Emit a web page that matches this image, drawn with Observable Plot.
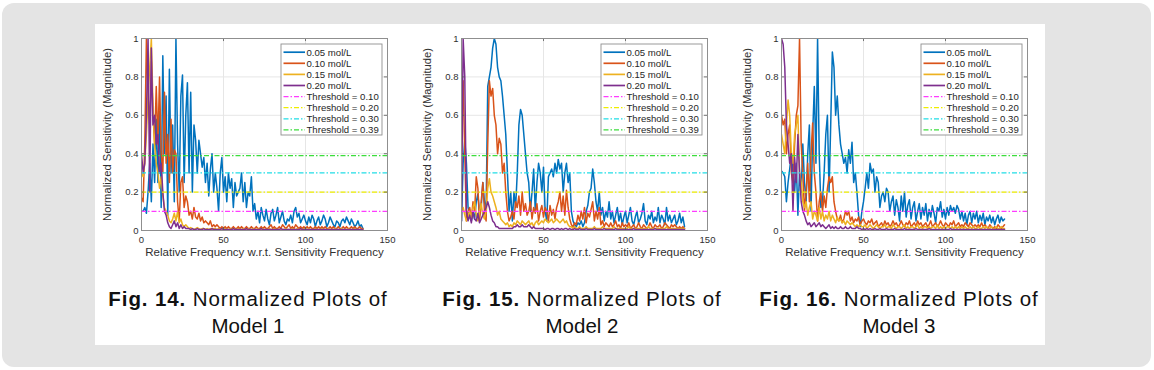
<!DOCTYPE html>
<html>
<head>
<meta charset="utf-8">
<script src="https://cdn.jsdelivr.net/npm/d3@7"></script>
<script src="https://cdn.jsdelivr.net/npm/@observablehq/plot@0.6"></script>
<style>
  html, body { margin: 0; padding: 0; background: #fff; }
  body { width: 1154px; height: 370px; position: relative; overflow: hidden; font-family: Arial, "Liberation Sans", Helvetica, sans-serif; }
  #frame { position: absolute; left: 2px; top: 3px; width: 1149px; height: 364px; background: #e4e4e4; border-radius: 12px; }
  #card { position: absolute; left: 95px; top: 24px; width: 950px; height: 321px; background: #fff; }
  .panel { position: absolute; top: 0; }
  .cap { position: absolute; width: 360px; text-align: center; font-size: 20.5px; line-height: 27px; color: #111; top: 261px; }
  .cap .l1 { letter-spacing: 0.9px; }
  .cap b { font-weight: bold; }
</style>
</head>
<body>
<div id="frame"></div>
<div id="card"></div>
<script>
// ---------- data ----------
const xTicks = [0, 50, 100, 150];
const yTicks = [0, 0.2, 0.4, 0.6, 0.8, 1];
const yTickLabels = ["0", "0.2", "0.4", "0.6", "0.8", "1"];
const gridX = [50, 100];
const gridY = [0.2, 0.4, 0.6, 0.8];
const seriesNames = ["0.05 mol/L", "0.10 mol/L", "0.15 mol/L", "0.20 mol/L"];
const thresholds = [0.10, 0.20, 0.30, 0.39];
const thresholdNames = ["Threshold = 0.10", "Threshold = 0.20", "Threshold = 0.30", "Threshold = 0.39"];
const xLabel = "Relative Frequency w.r.t. Sensitivity Frequency";
const yLabel = "Normalized Sensitivity (Magnitude)";
const figLabels = ["Fig. 14.", "Fig. 15.", "Fig. 16."];
const figTitles = ["Normalized Plots of", "Normalized Plots of", "Normalized Plots of"];
const modelNames = ["Model 1", "Model 2", "Model 3"];

// Model 1 (x = 0,1,2,...)
const m1_005 = [0.10,0.10,0.12,0.09,0.20,0.35,0.15,0.45,0.25,0.58,
 0.25,0.62,0.12,0.91,0.40,0.70,0.08,0.84,0.30,0.55,
 0.15,1.00,0.45,0.20,0.70,0.81,0.25,0.60,0.77,0.30,
 0.72,0.20,0.55,0.47,0.30,0.47,0.40,0.33,0.38,0.25,
 0.35,0.18,0.32,0.40,0.20,0.30,0.22,0.10,0.30,0.38,
 0.20,0.28,0.15,0.30,0.22,0.27,0.12,0.25,0.18,0.20,
 0.22,0.30,0.15,0.25,0.12,0.20,0.18,0.28,0.10,0.14,
 0.06,0.10,0.04,0.12,0.08,0.05,0.11,0.06,0.03,0.09,
 0.11,0.05,0.08,0.12,0.04,0.07,0.10,0.05,0.03,0.06,
 0.05,0.08,0.04,0.10,0.12,0.07,0.09,0.04,0.06,0.08,
 0.05,0.03,0.07,0.04,0.08,0.06,0.02,0.05,0.07,0.03,
 0.05,0.08,0.06,0.02,0.04,0.07,0.05,0.03,0.02,0.05,
 0.04,0.02,0.05,0.06,0.04,0.07,0.05,0.03,0.06,0.04,
 0.02,0.03,0.05,0.02,0.03,0.01];
const m1_010 = [0.17,0.15,0.45,1.00,0.70,0.55,0.88,0.60,0.45,0.75,
 0.45,0.80,0.40,0.30,0.72,0.35,0.50,0.25,0.58,0.30,
 0.42,0.40,0.15,0.05,0.25,0.28,0.12,0.18,0.15,0.08,
 0.10,0.06,0.12,0.07,0.06,0.09,0.05,0.07,0.04,0.05,
 0.04,0.03,0.05,0.02,0.03,0.02,0.03,0.02,0.01,0.02,
 0.01,0.02,0.01,0.02,0.01,0.01,0.02,0.01,0.01,0.02,
 0.01,0.02,0.01,0.01,0.02,0.01,0.01,0.02,0.01,0.01,
 0.02,0.01,0.01,0.02,0.01,0.02,0.01,0.01,0.02,0.03,
 0.01,0.02,0.01,0.01,0.02,0.01,0.03,0.02,0.01,0.02,
 0.03,0.01,0.02,0.01,0.03,0.02,0.01,0.02,0.01,0.02,
 0.01,0.02,0.01,0.02,0.01,0.01,0.02,0.01,0.02,0.01,
 0.02,0.01,0.02,0.01,0.01,0.02,0.01,0.02,0.01,0.01,
 0.02,0.01,0.01,0.02,0.01,0.02,0.01,0.01,0.02,0.01,
 0.02,0.01,0.01,0.02,0.01,0.01];
const m1_015 = [0.30,0.28,0.35,0.50,0.70,0.85,1.00,0.65,0.45,0.35,
 0.30,0.22,0.28,0.18,0.12,0.10,0.08,0.05,0.04,0.06,
 0.09,0.05,0.10,0.04,0.06,0.03,0.02,0.03,0.02,0.01,
 0.015,0.01,0.005,0.01,0.015,0.01,0.005,0.01,0.01,0.005,
 0.01,0.005,0.01,0.005,0.01,0.01,0.005,0.01,0.005,0.01,
 0.005,0.01,0.005,0.005,0.01,0.005,0.01,0.005,0.005,0.01,
 0.005,0.005,0.01,0.005,0.005,0.01,0.005,0.005,0.01,0.005,
 0.005,0.01,0.005,0.005,0.01,0.005,0.005,0.005,0.01,0.005,
 0.005,0.01,0.005,0.005,0.005,0.01,0.005,0.005,0.01,0.005,
 0.005,0.005,0.01,0.005,0.005,0.01,0.005,0.005,0.005,0.01,
 0.005,0.005,0.01,0.005,0.005,0.005,0.01,0.005,0.005,0.005,
 0.01,0.005,0.005,0.005,0.01,0.005,0.005,0.005,0.01,0.005,
 0.005,0.005,0.01,0.005,0.005,0.005,0.01,0.005,0.005,0.005,
 0.01,0.005,0.005,0.005,0.005,0.005];
const m1_020 = [0.40,0.30,0.35,0.60,1.00,0.20,0.95,0.55,0.60,0.45,
 0.50,0.30,0.35,0.20,0.10,0.08,0.04,0.02,0.01,0.03,
 0.05,0.02,0.04,0.01,0.03,0.01,0.02,0.01,0.01,0.01,
 0.005,0.01,0.005,0.005,0.01,0.005,0.005,0.005,0.01,0.005,
 0.005,0.005,0.005,0.01,0.005,0.005,0.005,0.005,0.005,0.01,
 0.005,0.005,0.005,0.005,0.005,0.005,0.01,0.005,0.005,0.005,
 0.005,0.005,0.005,0.005,0.01,0.005,0.005,0.005,0.005,0.005,
 0.005,0.005,0.005,0.01,0.005,0.005,0.005,0.005,0.005,0.005,
 0.005,0.005,0.005,0.005,0.005,0.01,0.005,0.005,0.005,0.005,
 0.005,0.005,0.005,0.005,0.005,0.005,0.005,0.01,0.005,0.005,
 0.005,0.005,0.005,0.005,0.005,0.005,0.005,0.005,0.005,0.005,
 0.005,0.005,0.005,0.005,0.005,0.005,0.005,0.005,0.005,0.005,
 0.005,0.005,0.005,0.005,0.005,0.005,0.005,0.005,0.005,0.005,
 0.005,0.005,0.005,0.005,0.005,0.005];

// Model 2
const m2_005 = [0.05,0.35,0.47,0.35,0.12,0.08,0.05,0.10,0.06,0.15,
 0.19,0.08,0.12,0.25,0.15,0.10,0.75,0.80,0.85,0.95,
 1.00,0.97,0.85,0.80,0.78,0.70,0.60,0.50,0.30,0.10,
 0.20,0.05,0.20,0.12,0.30,0.55,0.63,0.60,0.50,0.40,
 0.30,0.25,0.10,0.20,0.32,0.10,0.25,0.35,0.30,0.20,
 0.33,0.10,0.05,0.28,0.30,0.32,0.28,0.35,0.30,0.37,
 0.32,0.35,0.20,0.30,0.35,0.25,0.30,0.10,0.05,0.03,
 0.02,0.04,0.03,0.05,0.02,0.04,0.10,0.13,0.20,0.22,
 0.32,0.25,0.15,0.10,0.20,0.08,0.12,0.05,0.10,0.07,
 0.15,0.06,0.10,0.04,0.08,0.12,0.05,0.09,0.03,0.07,
 0.10,0.04,0.08,0.12,0.05,0.03,0.07,0.10,0.04,0.06,
 0.09,0.14,0.05,0.03,0.08,0.06,0.10,0.04,0.07,0.05,
 0.12,0.04,0.08,0.06,0.03,0.12,0.05,0.08,0.04,0.06,
 0.08,0.03,0.05,0.09,0.04,0.07,0.02];
const m2_010 = [0.55,0.78,0.40,0.05,0.10,0.12,0.06,0.15,0.10,0.28,
 0.22,0.05,0.15,0.25,0.10,0.05,0.45,0.78,0.70,0.74,
 0.60,0.55,0.40,0.48,0.45,0.30,0.35,0.20,0.10,0.05,
 0.07,0.10,0.06,0.15,0.12,0.18,0.08,0.20,0.10,0.14,
 0.08,0.10,0.15,0.06,0.12,0.09,0.14,0.05,0.10,0.13,
 0.07,0.12,0.10,0.05,0.13,0.08,0.11,0.06,0.12,0.15,
 0.20,0.10,0.18,0.08,0.21,0.12,0.06,0.03,0.02,0.04,
 0.03,0.08,0.05,0.10,0.06,0.12,0.04,0.09,0.07,0.11,
 0.15,0.05,0.10,0.06,0.12,0.03,0.05,0.02,0.04,0.03,
 0.02,0.04,0.02,0.03,0.05,0.02,0.03,0.01,0.04,0.02,
 0.03,0.02,0.04,0.01,0.02,0.03,0.01,0.02,0.04,0.02,
 0.01,0.03,0.02,0.01,0.02,0.04,0.02,0.01,0.03,0.02,
 0.02,0.03,0.01,0.02,0.04,0.03,0.02,0.01,0.03,0.02,
 0.03,0.02,0.01,0.02,0.01,0.02,0.01];
const m2_015 = [0.10,0.12,0.08,0.05,0.07,0.10,0.06,0.12,0.15,0.08,
 0.05,0.10,0.14,0.08,0.06,0.10,0.22,0.27,0.20,0.18,
 0.15,0.12,0.08,0.10,0.06,0.05,0.04,0.03,0.04,0.02,
 0.03,0.02,0.04,0.03,0.05,0.04,0.03,0.05,0.04,0.03,
 0.04,0.05,0.03,0.04,0.02,0.04,0.05,0.03,0.04,0.05,
 0.04,0.06,0.05,0.04,0.05,0.06,0.04,0.05,0.06,0.05,
 0.04,0.05,0.06,0.04,0.05,0.03,0.02,0.02,0.01,0.02,
 0.01,0.01,0.02,0.01,0.01,0.01,0.02,0.01,0.01,0.01,
 0.01,0.02,0.01,0.01,0.01,0.01,0.02,0.01,0.01,0.01,
 0.01,0.01,0.01,0.02,0.01,0.01,0.01,0.01,0.01,0.01,
 0.01,0.01,0.02,0.01,0.01,0.01,0.01,0.01,0.01,0.01,
 0.01,0.01,0.01,0.01,0.02,0.01,0.01,0.01,0.01,0.01,
 0.01,0.01,0.01,0.01,0.01,0.02,0.01,0.01,0.01,0.01,
 0.01,0.01,0.01,0.01,0.01,0.01,0.01];
const m2_020 = [0.05,1.00,0.80,0.10,0.05,0.08,0.04,0.10,0.06,0.05,
 0.09,0.04,0.06,0.08,0.10,0.12,0.15,0.12,0.08,0.05,
 0.04,0.02,0.02,0.01,0.01,0.01,0.01,0.01,0.01,0.01,
 0.01,0.01,0.02,0.02,0.03,0.02,0.02,0.03,0.02,0.02,
 0.02,0.03,0.02,0.01,0.02,0.01,0.01,0.01,0.01,0.01,
 0.01,0.005,0.01,0.01,0.005,0.01,0.01,0.005,0.01,0.01,
 0.005,0.01,0.005,0.01,0.01,0.005,0.01,0.005,0.005,0.01,
 0.005,0.005,0.01,0.005,0.005,0.005,0.01,0.005,0.005,0.005,
 0.005,0.01,0.005,0.005,0.005,0.005,0.005,0.01,0.005,0.005,
 0.005,0.005,0.005,0.005,0.01,0.005,0.005,0.005,0.005,0.005,
 0.005,0.005,0.005,0.005,0.005,0.01,0.005,0.005,0.005,0.005,
 0.005,0.005,0.005,0.005,0.005,0.005,0.005,0.005,0.01,0.005,
 0.005,0.005,0.005,0.005,0.005,0.005,0.005,0.005,0.005,0.005,
 0.005,0.005,0.005,0.005,0.005,0.005,0.005];

// Model 3
const m3_005 = [0.31,0.30,0.28,0.15,0.25,0.32,0.40,0.30,0.20,0.35,
 0.08,0.30,0.20,0.45,0.25,0.15,0.40,0.55,0.10,0.50,
 0.75,0.35,1.00,0.40,0.12,0.15,0.30,0.50,0.60,0.20,
 0.55,0.93,0.85,0.60,0.70,0.55,0.45,0.40,0.35,0.38,
 0.30,0.42,0.35,0.46,0.25,0.30,0.20,0.08,0.02,0.10,
 0.15,0.22,0.30,0.22,0.35,0.30,0.32,0.20,0.28,0.25,
 0.12,0.18,0.20,0.15,0.22,0.20,0.10,0.15,0.18,0.08,
 0.16,0.12,0.05,0.18,0.10,0.20,0.07,0.13,0.16,0.06,
 0.12,0.15,0.05,0.10,0.14,0.06,0.12,0.08,0.14,0.05,
 0.11,0.07,0.13,0.09,0.04,0.12,0.10,0.15,0.07,0.11,
 0.06,0.12,0.08,0.13,0.10,0.12,0.09,0.13,0.11,0.06,
 0.10,0.05,0.09,0.03,0.08,0.10,0.04,0.09,0.06,0.10,
 0.04,0.08,0.05,0.09,0.03,0.07,0.05,0.08,0.04,0.07,
 0.03,0.06,0.08,0.04,0.07,0.05,0.06];
const m3_010 = [0.60,0.55,0.58,0.40,0.50,0.55,0.30,0.25,0.45,0.60,
 0.65,1.00,0.45,0.30,0.10,0.20,0.35,0.15,0.40,0.56,
 0.30,0.20,0.05,0.15,0.20,0.10,0.18,0.12,0.22,0.28,
 0.25,0.28,0.15,0.10,0.06,0.05,0.08,0.04,0.06,0.10,
 0.08,0.10,0.05,0.07,0.04,0.06,0.05,0.07,0.03,0.05,
 0.06,0.04,0.03,0.05,0.04,0.06,0.03,0.04,0.05,0.02,
 0.03,0.04,0.02,0.05,0.03,0.04,0.02,0.03,0.05,0.03,
 0.04,0.02,0.03,0.05,0.03,0.02,0.04,0.03,0.05,0.02,
 0.03,0.04,0.02,0.05,0.03,0.04,0.02,0.03,0.04,0.02,
 0.03,0.05,0.02,0.03,0.04,0.02,0.03,0.05,0.03,0.02,
 0.04,0.03,0.02,0.04,0.03,0.05,0.02,0.03,0.04,0.02,
 0.03,0.02,0.04,0.03,0.02,0.04,0.03,0.02,0.03,0.02,
 0.03,0.02,0.04,0.02,0.03,0.02,0.01,0.03,0.02,0.01,
 0.02,0.01,0.03,0.02,0.01,0.02,0.03];
const m3_015 = [0.50,0.45,0.40,0.55,0.68,0.60,0.40,0.35,0.50,0.55,
 0.60,0.30,0.25,0.15,0.12,0.15,0.08,0.12,0.15,0.06,
 0.10,0.08,0.05,0.12,0.06,0.10,0.05,0.08,0.06,0.10,
 0.05,0.08,0.06,0.04,0.07,0.05,0.06,0.04,0.05,0.03,
 0.05,0.04,0.03,0.04,0.03,0.02,0.03,0.02,0.03,0.02,
 0.02,0.03,0.01,0.02,0.03,0.02,0.01,0.02,0.03,0.02,
 0.01,0.02,0.02,0.03,0.01,0.02,0.02,0.01,0.03,0.02,
 0.01,0.02,0.02,0.01,0.02,0.03,0.01,0.02,0.01,0.02,
 0.02,0.01,0.02,0.03,0.01,0.02,0.01,0.02,0.02,0.01,
 0.02,0.01,0.02,0.02,0.01,0.03,0.01,0.02,0.01,0.02,
 0.01,0.02,0.02,0.01,0.02,0.01,0.02,0.01,0.02,0.01,
 0.02,0.01,0.02,0.01,0.01,0.02,0.01,0.02,0.01,0.01,
 0.02,0.01,0.01,0.02,0.01,0.02,0.01,0.01,0.02,0.01,
 0.01,0.02,0.01,0.01,0.02,0.01,0.01];
const m3_020 = [1.00,0.97,0.85,0.55,0.45,0.35,0.40,0.10,0.38,0.25,
 0.50,0.30,0.15,0.10,0.08,0.05,0.03,0.04,0.02,0.03,
 0.04,0.02,0.03,0.04,0.02,0.03,0.02,0.01,0.02,0.03,
 0.01,0.02,0.01,0.02,0.01,0.01,0.02,0.01,0.01,0.02,
 0.01,0.01,0.02,0.01,0.01,0.01,0.02,0.01,0.01,0.005,
 0.01,0.005,0.01,0.005,0.01,0.005,0.005,0.01,0.005,0.005,
 0.01,0.005,0.005,0.005,0.01,0.005,0.005,0.005,0.005,0.01,
 0.005,0.005,0.005,0.005,0.005,0.01,0.005,0.005,0.005,0.005,
 0.005,0.005,0.01,0.005,0.005,0.005,0.005,0.005,0.005,0.005,
 0.01,0.005,0.005,0.005,0.005,0.005,0.005,0.005,0.005,0.005,
 0.005,0.005,0.005,0.01,0.005,0.005,0.005,0.005,0.005,0.005,
 0.005,0.005,0.005,0.005,0.005,0.005,0.005,0.005,0.005,0.005,
 0.005,0.005,0.005,0.005,0.005,0.005,0.005,0.005,0.005,0.005,
 0.005,0.005,0.005,0.005,0.005,0.005,0.005];

const models = [
  [m1_005, m1_010, m1_015, m1_020],
  [m2_005, m2_010, m2_015, m2_020],
  [m3_005, m3_010, m3_015, m3_020]
];

// ---------- styles ----------
const seriesColors = ["#0072BD", "#D95319", "#EDB120", "#7E2F8E"];
const thresholdColors = ["#ff3cff", "#eeee00", "#22dde6", "#3ddd3d"];
const dash = "5,2,1.5,2";
const FONT = 'Arial, "Liberation Sans", Helvetica, sans-serif';
const panelLeft = [0, 320, 640];
const capCenter = [153, 487, 804];

const card = document.getElementById("card");

models.forEach((series, p) => {
  const W = 300, H = 240, ML = 46, MR = 8, MT = 14, MB = 34;
  const marks = [
    Plot.ruleX(gridX, {stroke: "#e6e6e6", strokeWidth: 1}),
    Plot.ruleY(gridY, {stroke: "#e6e6e6", strokeWidth: 1})
  ];
  series.forEach((vals, s) => {
    const data = vals.map((v, i) => ({x: i, y: v}));
    marks.push(Plot.line(data, {x: "x", y: "y", stroke: seriesColors[s], strokeWidth: 1.5, clip: true}));
  });
  thresholds.forEach((t, k) => {
    marks.push(Plot.ruleY([t], {stroke: thresholdColors[k], strokeWidth: 1.25, strokeDasharray: dash}));
  });
  // inward ticks (MATLAB style) on all four sides
  marks.push(Plot.ruleX(xTicks, {y1: 0, y2: 0.016, stroke: "#555", strokeWidth: 0.8}));
  marks.push(Plot.ruleX(xTicks, {y1: 0.984, y2: 1, stroke: "#555", strokeWidth: 0.8}));
  marks.push(Plot.ruleY(yTicks, {x1: 0, x2: 1.9, stroke: "#555", strokeWidth: 0.8}));
  marks.push(Plot.ruleY(yTicks, {x1: 148.1, x2: 150, stroke: "#555", strokeWidth: 0.8}));
  marks.push(Plot.frame({stroke: "#8f8f8f", strokeWidth: 1}));
  marks.push(Plot.text([xLabel], {text: d => d, frameAnchor: "bottom", dy: 25, fontSize: 11.5, fill: "#303030"}));
  marks.push(Plot.text([yLabel], {text: d => d, frameAnchor: "left", textAnchor: "middle", rotate: -90, dx: -34, fontSize: 11.2, fill: "#303030"}));

  const chart = Plot.plot({
    width: W, height: H,
    marginLeft: ML, marginRight: MR, marginTop: MT, marginBottom: MB,
    style: {fontFamily: FONT, fontSize: "9.5px", color: "#303030", background: "transparent", overflow: "visible"},
    x: {domain: [0, 150], ticks: xTicks, tickSize: 0, tickPadding: 6, tickFormat: d => String(d), label: null},
    y: {domain: [0, 1], ticks: yTicks, tickSize: 0, tickPadding: 3, tickFormat: d => yTickLabels[yTicks.indexOf(d)], label: null},
    marks
  });

  // legend (pixel placement inside the plot frame, top-right)
  const svg = d3.select(chart);
  const lx = ML + 140, ly = MT + 6, lw = 101, lh = 91;
  const g = svg.append("g").attr("transform", `translate(${lx},${ly})`).attr("text-anchor", "start");
  g.append("rect").attr("width", lw).attr("height", lh).attr("fill", "#fff").attr("stroke", "#8f8f8f").attr("stroke-width", 0.9);
  const entries = seriesNames.map((n, i) => ({name: n, color: seriesColors[i], dash: null}))
    .concat(thresholdNames.map((n, i) => ({name: n, color: thresholdColors[i], dash: dash})));
  entries.forEach((e, i) => {
    const cy = 8.2 + i * 11.1;
    g.append("line").attr("x1", 2.5).attr("x2", 24).attr("y1", cy).attr("y2", cy)
      .attr("stroke", e.color).attr("stroke-width", e.dash ? 1.25 : 1.7)
      .attr("stroke-dasharray", e.dash);
    g.append("text").attr("x", 25.5).attr("y", cy + 3.3).attr("font-size", 9.6).attr("fill", "#262626")
      .attr("text-anchor", "start").attr("font-family", FONT).text(e.name);
  });

  const holder = document.createElement("div");
  holder.className = "panel";
  holder.style.left = panelLeft[p] + "px";
  holder.appendChild(chart);
  card.appendChild(holder);

  const cap = document.createElement("div");
  cap.className = "cap";
  cap.style.left = (capCenter[p] - 180) + "px";
  cap.innerHTML = `<span class="l1"><b>${figLabels[p]}</b> ${figTitles[p]}</span><br>${modelNames[p]}`;
  card.appendChild(cap);
});
</script>
</body>
</html>
